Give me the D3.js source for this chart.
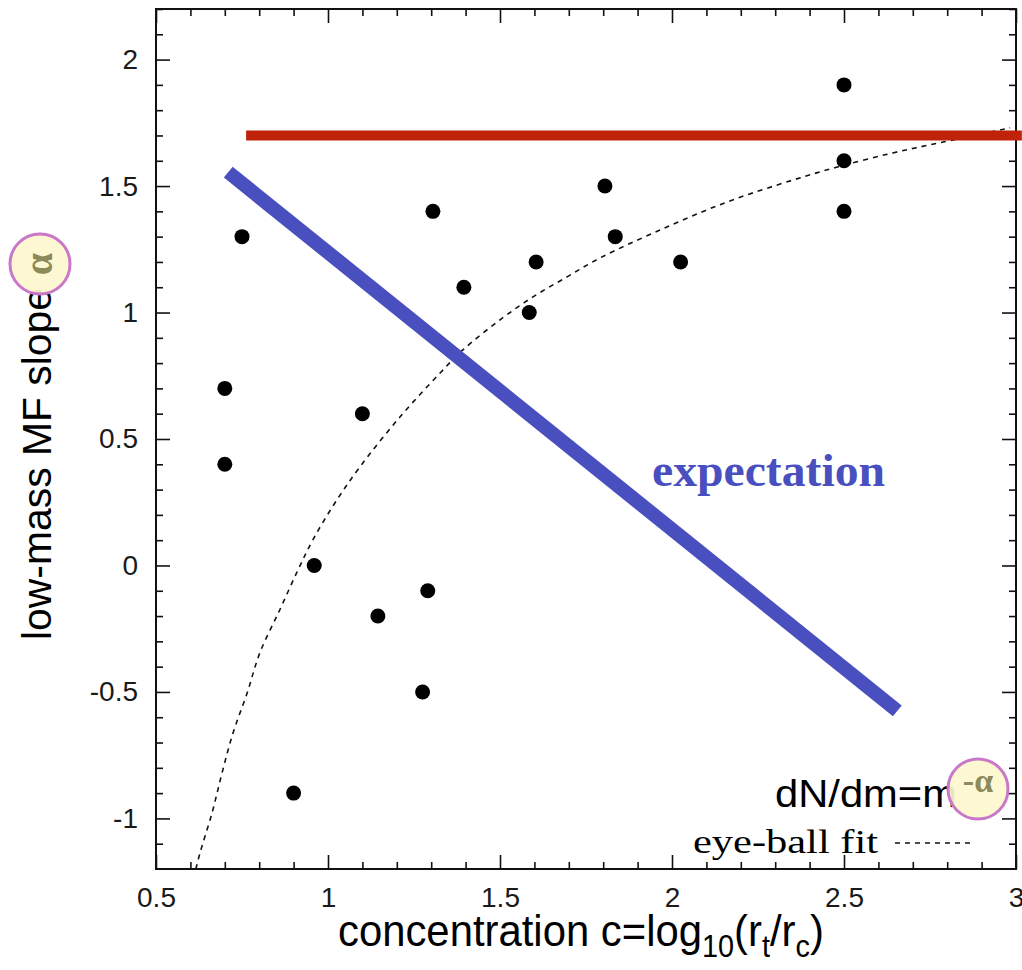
<!DOCTYPE html>
<html>
<head>
<meta charset="utf-8">
<script src="https://cdn.jsdelivr.net/npm/d3@7"></script>
<style>
  html, body { margin: 0; padding: 0; background: #fff; }
  svg { display: block; }
</style>
</head>
<body>
<svg id="chart" width="1022" height="970"></svg>
<script>
// ---------------- data ----------------
const xTickValues = [0.5, 1, 1.5, 2, 2.5, 3];
const xTickLabels = ["0.5", "1", "1.5", "2", "2.5", "3"];
const yTickValues = [-1, -0.5, 0, 0.5, 1, 1.5, 2];
const yTickLabels = ["-1", "-0.5", "0", "0.5", "1", "1.5", "2"];

// clusters: concentration c and low-mass MF slope alpha
const clusterC     = [0.75, 0.70, 0.70, 0.90, 0.96, 1.10, 1.145, 1.29, 1.275, 1.305, 1.395, 1.585, 1.605, 1.805, 1.835, 2.025, 2.50, 2.50, 2.50];
const clusterAlpha = [1.30, 0.70, 0.40, -0.90, 0.00, 0.60, -0.20, -0.10, -0.50, 1.40, 1.10, 1.00, 1.20, 1.50, 1.30, 1.20, 1.90, 1.60, 1.40];

// eye-ball fit (dashed curve)
const fitC     = [0.616, 0.628, 0.663, 0.692, 0.724, 0.765, 0.802, 0.860, 0.913, 0.956, 1.020, 1.093, 1.209, 1.326, 1.392, 1.500, 1.596, 1.695, 1.791, 1.965, 2.160, 2.352, 2.480, 2.642, 2.788, 2.983];
const fitAlpha = [-1.20, -1.136, -0.978, -0.820, -0.662, -0.504, -0.345, -0.175, -0.017, 0.101, 0.247, 0.390, 0.587, 0.761, 0.852, 0.971, 1.062, 1.141, 1.216, 1.326, 1.437, 1.524, 1.575, 1.631, 1.674, 1.730];

// "expectation" line (blue) and reference level (red)
const expectationC     = [0.71, 2.655];
const expectationAlpha = [1.555, -0.575];
const referenceC       = [0.762, 3.017];
const referenceAlpha   = [1.70, 1.70];

const xDomain = [0.5, 3];
const yDomain = [-1.2, 2.2];
const xMinorStep = 0.1, yMinorStep = 0.1;

// ---------------- layout ----------------
const svg = d3.select("#chart");
const margin = { left: 156, top: 9 };
const W = 860, H = 860;

const x = d3.scaleLinear().domain(xDomain).range([0, W]);
const y = d3.scaleLinear().domain(yDomain).range([H, 0]);

const g = svg.append("g").attr("transform", `translate(${margin.left},${margin.top})`);

const sans = "'Liberation Sans', Arial, Helvetica, sans-serif";
const serif = "'Liberation Serif', 'Times New Roman', serif";

const xMinor = d3.range(0.6, 3.0001, xMinorStep).map(v => +v.toFixed(2)).filter(v => !xTickValues.some(t => Math.abs(t - v) < 1e-6));
const yMinor = d3.range(-1.1, 2.2001, yMinorStep).map(v => +v.toFixed(2)).filter(v => !yTickValues.some(t => Math.abs(t - v) < 1e-6));

function styleAxis(sel) {
  sel.select(".domain").remove();
  sel.selectAll(".tick line").attr("stroke", "#111").attr("stroke-width", 1.6);
  sel.selectAll(".tick text").attr("fill", "#1a1a1a").style("font-family", sans).style("font-size", "28px");
}

// bottom major with labels
g.append("g").attr("transform", `translate(0,${H})`)
  .call(d3.axisBottom(x).tickValues(xTickValues).tickFormat((d, i) => xTickLabels[i]).tickSize(-14).tickPadding(18))
  .call(styleAxis);
g.append("g").attr("transform", `translate(0,${H})`)
  .call(d3.axisBottom(x).tickValues(xMinor).tickFormat("").tickSize(-7))
  .call(styleAxis);
// top
g.append("g")
  .call(d3.axisTop(x).tickValues(xTickValues).tickFormat("").tickSize(-14))
  .call(styleAxis);
g.append("g")
  .call(d3.axisTop(x).tickValues(xMinor).tickFormat("").tickSize(-7))
  .call(styleAxis);
// left major with labels
g.append("g")
  .call(d3.axisLeft(y).tickValues(yTickValues).tickFormat((d, i) => yTickLabels[i]).tickSize(-14).tickPadding(18))
  .call(styleAxis);
g.append("g")
  .call(d3.axisLeft(y).tickValues(yMinor).tickFormat("").tickSize(-7))
  .call(styleAxis);
// right
g.append("g").attr("transform", `translate(${W},0)`)
  .call(d3.axisRight(y).tickValues(yTickValues).tickFormat("").tickSize(-14))
  .call(styleAxis);
g.append("g").attr("transform", `translate(${W},0)`)
  .call(d3.axisRight(y).tickValues(yMinor).tickFormat("").tickSize(-7))
  .call(styleAxis);

// frame
g.append("rect").attr("x", 0).attr("y", 0).attr("width", W).attr("height", H)
  .attr("fill", "none").attr("stroke", "#111").attr("stroke-width", 2);

// clip for fit curve
svg.append("defs").append("clipPath").attr("id", "plotclip")
  .append("rect").attr("x", 0).attr("y", 0).attr("width", W).attr("height", H);

const line = d3.line().x(d => x(d[0])).y(d => y(d[1]));

// eye-ball fit
g.append("path")
  .datum(d3.zip(fitC, fitAlpha))
  .attr("d", d3.line().curve(d3.curveCatmullRom).x(d => x(d[0])).y(d => y(d[1])))
  .attr("fill", "none").attr("stroke", "#111").attr("stroke-width", 1.6)
  .attr("stroke-dasharray", "5,5")
  .attr("clip-path", "url(#plotclip)");

// points
g.selectAll("circle.pt")
  .data(d3.zip(clusterC, clusterAlpha))
  .join("circle").attr("class", "pt")
  .attr("cx", d => x(d[0])).attr("cy", d => y(d[1])).attr("r", 7.5)
  .attr("fill", "#000");

// reference red line
g.append("path")
  .datum(d3.zip(referenceC, referenceAlpha))
  .attr("d", line)
  .attr("stroke", "#c0230a").attr("stroke-width", 10).attr("fill", "none");

// expectation blue line
g.append("path")
  .datum(d3.zip(expectationC, expectationAlpha))
  .attr("d", line)
  .attr("stroke", "#4a4fbf").attr("stroke-width", 14).attr("fill", "none")
  .attr("stroke-linecap", "butt");

// expectation label
svg.append("text")
  .attr("x", 652).attr("y", 486)
  .attr("fill", "#4a4fbf")
  .style("font-family", serif).style("font-weight", "bold").style("font-size", "47px")
  .attr("textLength", 233).attr("lengthAdjust", "spacingAndGlyphs")
  .text("expectation");

// legend: dN/dm = m^-alpha
svg.append("text")
  .attr("x", 775).attr("y", 807)
  .attr("fill", "#000")
  .style("font-family", sans).style("font-size", "39px")
  .attr("textLength", 182).attr("lengthAdjust", "spacingAndGlyphs")
  .text("dN/dm=m");

// eye-ball fit legend
svg.append("text")
  .attr("x", 693).attr("y", 853)
  .attr("fill", "#000")
  .style("font-family", serif).style("font-size", "34px")
  .attr("textLength", 185).attr("lengthAdjust", "spacingAndGlyphs")
  .text("eye-ball fit");
svg.append("line")
  .attr("x1", 895).attr("x2", 975).attr("y1", 843).attr("y2", 843)
  .attr("stroke", "#111").attr("stroke-width", 1.6).attr("stroke-dasharray", "5,5");

// highlight circles
function alphaBadge(cx, cy, txt, rotate, size) {
  const b = svg.append("g").attr("transform", `translate(${cx},${cy})` + (rotate ? ` rotate(${rotate})` : ""));
  b.append("circle").attr("r", 30).attr("fill", "#fdf7cd").attr("fill-opacity", 0.92)
    .attr("stroke", "#c977c9").attr("stroke-width", 3);
  b.append("text").attr("text-anchor", "middle").attr("dy", "0.3em")
    .attr("fill", "#8c8a5a")
    .style("font-family", serif).style("font-weight", "bold").style("font-size", size + "px")
    .text(txt);
  return b;
}

// axis titles
svg.append("text")
  .attr("transform", "translate(51,640) rotate(-90)")
  .attr("fill", "#000")
  .style("font-family", sans).style("font-size", "41px")
  .attr("textLength", 352).attr("lengthAdjust", "spacingAndGlyphs")
  .text("low-mass MF slope");

alphaBadge(40, 264, "α", -90, 40);
alphaBadge(978, 789, "-α", 0, 34).select("text").attr("dy", "0.1em");

const xt = svg.append("text")
  .attr("transform", "translate(338,946) scale(0.93,1)")
  .attr("fill", "#000")
  .style("font-family", sans).style("font-size", "45px");
xt.append("tspan").text("concentration c=log");
xt.append("tspan").attr("dy", 11).style("font-size", "31px").text("10");
xt.append("tspan").attr("dy", -11).text("(r");
xt.append("tspan").attr("dy", 11).style("font-size", "31px").text("t");
xt.append("tspan").attr("dy", -11).text("/r");
xt.append("tspan").attr("dy", 11).style("font-size", "31px").text("c");
xt.append("tspan").attr("dy", -11).text(")");
</script>
</body>
</html>
